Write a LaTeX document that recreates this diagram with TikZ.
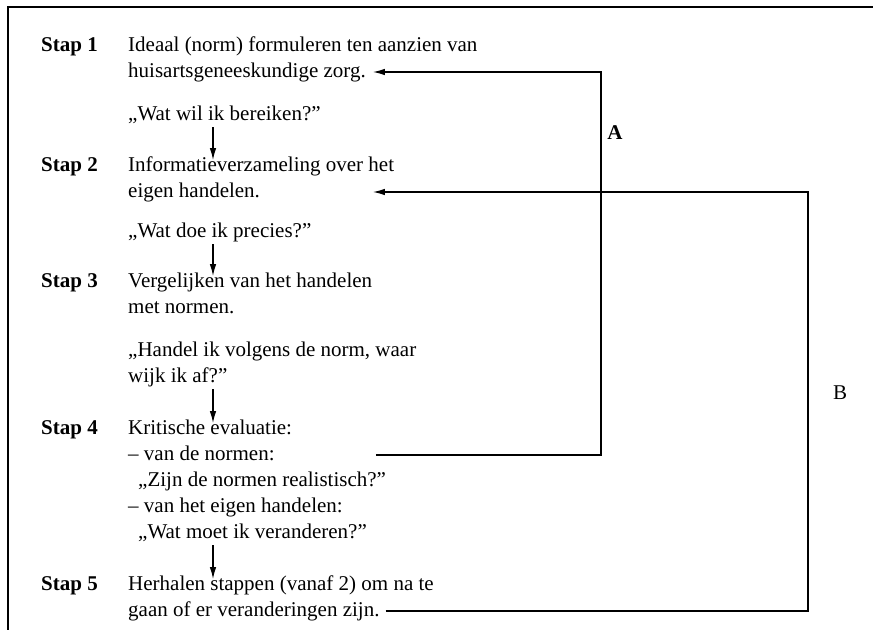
\documentclass[tikz,border=0pt]{standalone}
\usepackage{fontspec}
\setmainfont{Liberation Serif}
\usetikzlibrary{arrows.meta,calc}
\tikzset{
  txt/.style={anchor=base west, inner sep=0pt, font=\fontsize{21}{24}\selectfont},
  lbl/.style={anchor=base west, inner sep=0pt, font=\fontsize{21}{24}\selectfont\bfseries},
  letter/.style={inner sep=0pt, font=\fontsize{21}{24}\selectfont},
  arr/.style={-{Latex[length=12pt,width=6.5pt]}, line width=1.2pt},
  ln/.style={line width=1.2pt},
}
\begin{document}
\begin{tikzpicture}[x=1pt,y=-1pt]
\useasboundingbox (0,0) rectangle (873,630);
% frame (only top and left edges visible)
\draw[ln] (873,7) -- (8,7) -- (8,630);

\node[lbl] (s1) at (41,51) {Stap 1};
\node[txt] (t1a) at (128,51) {Ideaal (norm) formuleren ten aanzien van};
\node[txt] (t1b) at (128,77) {huisartsgeneeskundige zorg.};
\node[txt] (q1) at (128,120) {„Wat wil ik bereiken?”};

\node[lbl] (s2) at (41,171) {Stap 2};
\node[txt] (t2a) at (128,171) {Informatieverzameling over het};
\node[txt] (t2b) at (128,197) {eigen handelen.};
\node[txt] (q2) at (128,237) {„Wat doe ik precies?”};

\node[lbl] (s3) at (41,287) {Stap 3};
\node[txt] (t3a) at (128,287) {Vergelijken van het handelen};
\node[txt] (t3b) at (128,313) {met normen.};
\node[txt] (q3a) at (128,356) {„Handel ik volgens de norm, waar};
\node[txt] (q3b) at (128,382) {wijk ik af?”};

\node[lbl] (s4) at (41,434) {Stap 4};
\node[txt] (t4a) at (128,434) {Kritische evaluatie:};
\node[txt] (t4b) at (128,460) {– van de normen:};
\node[txt] (t4c) at (138,486) {„Zijn de normen realistisch?”};
\node[txt] (t4d) at (128,512) {– van het eigen handelen:};
\node[txt] (t4e) at (138,538) {„Wat moet ik veranderen?”};

\node[lbl] (s5) at (41,590) {Stap 5};
\node[txt] (t5a) at (128,590) {Herhalen stappen (vanaf 2) om na te};
\node[txt] (t5b) at (128,616) {gaan of er veranderingen zijn.};

\node[letter, font=\fontsize{21}{24}\selectfont\bfseries] (la) at (615,133) {A};
\node[letter] (lb) at (840,393) {B};

% vertical step arrows
\coordinate (ax) at (213,0);
\coordinate (Ax) at (601,0);
\coordinate (Bx) at (808,0);
\draw[arr] ($(q1.base -| ax)+(0,7)$) -- ($(t2a.base -| ax)+(0,-11)$);
\draw[arr] ($(q2.base -| ax)+(0,7)$) -- ($(t3a.base -| ax)+(0,-11)$);
\draw[arr] ($(q3b.base -| ax)+(0,7)$) -- ($(t4a.base -| ax)+(0,-11)$);
\draw[arr] ($(t4e.base -| ax)+(0,7)$) -- ($(t5a.base -| ax)+(0,-11)$);

% loop A
\coordinate (tipx) at ($(t1b.base east)+(7,0)$);
\draw[arr] ($(tipx |- t4b.base)+(3,-5)$) -- ($(Ax |- t4b.base)+(0,-5)$)
  -- ($(Ax |- t1b.base)+(0,-5)$) -- ($(tipx |- t1b.base)+(0,-5)$);
% loop B
\draw[arr] ($(t5b.base east)+(6,-5)$) -- ($(Bx |- t5b.base)+(0,-5)$)
  -- ($(Bx |- t2b.base)+(0,-5)$) -- ($(tipx |- t2b.base)+(0,-5)$);
\end{tikzpicture}
\end{document}
